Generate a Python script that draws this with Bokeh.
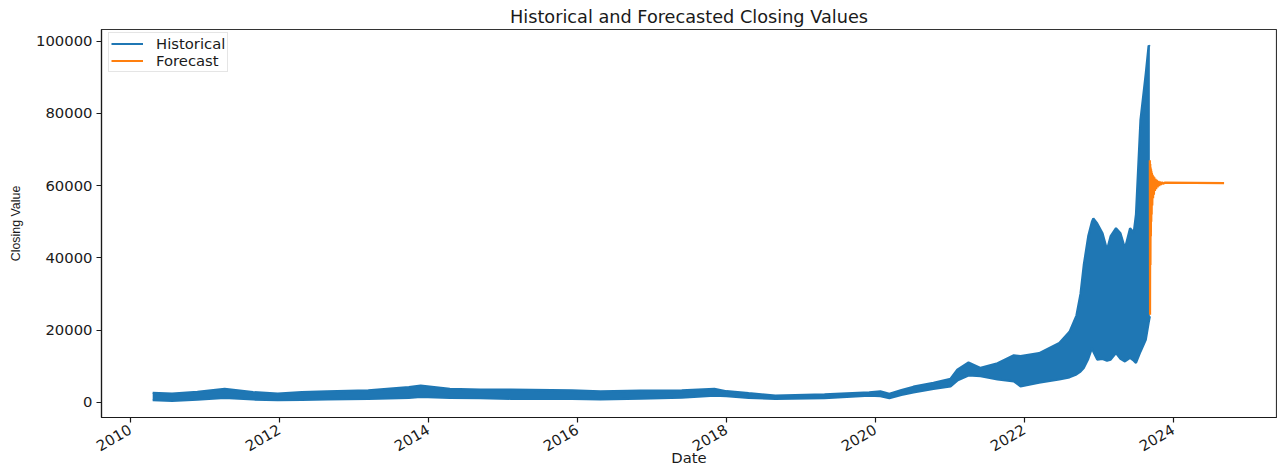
import math
import pandas as pd
from bokeh.plotting import figure
from bokeh.models import (Range1d, FixedTicker, DatetimeTickFormatter, BasicTickFormatter,
                          Legend, LegendItem)
from bokeh.embed import file_html
from bokeh.resources import INLINE

# Historical closing values: lower / upper envelope of the daily series
hist_dates = [
    "2010-04-20", "2010-07-24", "2010-11-25", "2011-04-08", "2011-08-25", "2011-12-24",
    "2012-04-20", "2012-08-22", "2013-03-12", "2013-09-27", "2013-11-24", "2014-04-16",
    "2014-09-13", "2015-02-10", "2015-12-05", "2016-04-23", "2016-11-06", "2017-05-27",
    "2017-11-03", "2018-01-01", "2018-04-20", "2018-08-29", "2019-04-27", "2019-12-02",
    "2020-01-26", "2020-03-10", "2020-05-08", "2020-07-06", "2020-10-12", "2021-01-04",
    "2021-02-06", "2021-04-02", "2021-05-31", "2021-08-22", "2021-11-10", "2021-12-13",
    "2022-03-14", "2022-06-21", "2022-08-10", "2022-09-13", "2022-10-03", "2022-10-19",
    "2022-11-10", "2022-11-28", "2022-12-05", "2022-12-24", "2023-01-19", "2023-02-10",
    "2023-02-28", "2023-03-26", "2023-04-17", "2023-05-09", "2023-06-03", "2023-06-21",
    "2023-07-02", "2023-07-24", "2023-08-19", "2023-09-02", "2023-09-08",
]
hist_low = [
    550, 400, 700, 1200, 750, 550,
    650, 750, 900, 1200, 1450, 1200,
    1100, 950, 900, 750, 1000, 1300,
    1800, 1650, 1200, 900, 1150, 1800,
    1700, 1100, 2000, 2700, 3700, 4400,
    6000, 7400, 7200, 6300, 5800, 4400,
    5400, 6300, 6900, 7700, 8500, 9500,
    12000, 15000, 14000, 11800, 12000, 11500,
    11800, 13600, 12000, 11300, 12300, 11500,
    10900, 14000, 17300, 22000, 23800,
]
hist_high = [
    2600, 2400, 2900, 3700, 2800, 2400,
    2800, 3000, 3300, 4200, 4600, 3700,
    3500, 3500, 3300, 3000, 3200, 3300,
    3700, 3050, 2500, 1850, 2150, 2750,
    3000, 2350, 3400, 4300, 5400, 6500,
    9000, 11000, 9500, 10800, 13000, 12800,
    13600, 16400, 19500, 24000, 30000, 38000,
    46000, 50000, 50900, 49500, 46800, 42200,
    46000, 48200, 46800, 42600, 48200, 47000,
    52000, 78100, 91000, 98800, 98500,
]

# Forecast closing values
fc_dates = [
    "2023-09-08", "2023-09-09", "2023-09-10", "2023-09-11", "2023-09-12", "2023-09-13",
    "2023-09-14", "2023-09-15", "2023-09-16", "2023-09-17", "2023-09-18", "2023-09-20",
    "2023-09-22", "2023-09-24", "2023-09-26", "2023-09-28", "2023-09-30", "2023-10-03",
    "2023-10-06", "2023-10-09", "2023-10-12", "2023-10-16", "2023-10-20", "2023-10-24",
    "2023-10-28", "2023-11-02", "2023-11-07", "2023-11-13", "2023-11-20", "2024-09-06",
]
fc_values = [
    67000, 24200, 66000, 38000, 65000, 46000,
    64500, 50000, 64000, 52000, 63500, 54500,
    63000, 56500, 62600, 57500, 62300, 58500,
    61900, 59000, 61600, 59500, 61300, 59900,
    61100, 60200, 60950, 60500, 60800, 60700,
]

y_ticks = [0, 20000, 40000, 60000, 80000, 100000]
x_tick_years = [2010, 2012, 2014, 2016, 2018, 2020, 2022, 2024]

BLUE = "#1f77b4"
ORANGE = "#ff7f0e"
TEXT = "#1a1a1a"
FONT = "DejaVu Sans"

hd = pd.to_datetime(hist_dates)
fd = pd.to_datetime(fc_dates)

p = figure(
    width=1277, height=468,
    x_axis_type="datetime",
    output_backend="svg", toolbar_location=None,
    min_border_left=101, min_border_right=1, min_border_top=29, min_border_bottom=50,
    x_range=Range1d(pd.Timestamp("2009-08-12"), pd.Timestamp("2025-05-21")),
    y_range=Range1d(-4230, 103230),
)
p.background_fill_color = "white"
p.border_fill_color = "white"
p.outline_line_color = "#333333"
p.outline_line_width = 1.2
p.xgrid.visible = False
p.ygrid.visible = False

# Title
p.title.text = "Historical and Forecasted Closing Values"
p.title.align = "center"
p.title.text_font = FONT
p.title.text_font_size = "17.7px"
p.title.text_font_style = "normal"
p.title.text_color = TEXT
p.title.standoff = 6

# Historical band and its edges
p.varea(x=hd, y1=hist_low, y2=hist_high, fill_color=BLUE, fill_alpha=1.0)
r_hist = p.line(hd, hist_high, line_color=BLUE, line_width=2.2)
p.line(hd, hist_low, line_color=BLUE, line_width=2.2)

# Forecast
r_fc = p.line(fd, fc_values, line_color=ORANGE, line_width=2.2)

# Axes
xa = p.xaxis[0]
xa.ticker = FixedTicker(ticks=[pd.Timestamp(f"{y}-01-01").value / 1e6 for y in x_tick_years])
xa.formatter = DatetimeTickFormatter(years="%Y", months="%Y", days="%Y", hours="%Y",
                                     minutes="%Y", seconds="%Y", milliseconds="%Y")
xa.major_label_orientation = math.pi / 6
xa.axis_label = "Date"

ya = p.yaxis[0]
ya.ticker = FixedTicker(ticks=y_ticks)
ya.formatter = BasicTickFormatter(use_scientific=False)
ya.axis_label = "Closing Value"

for ax in (xa, ya):
    ax.minor_tick_line_color = None
    ax.major_tick_out = 5
    ax.major_tick_in = 0
    ax.major_tick_line_width = 1.2
    ax.major_tick_line_color = "#1a1a1a"
    ax.axis_line_color = "#1a1a1a"
    ax.axis_line_width = 1.2
    ax.major_label_text_font = FONT
    ax.major_label_text_font_size = "14.8px"
    ax.major_label_text_color = TEXT
    ax.axis_label_text_font_style = "normal"
    ax.axis_label_text_color = TEXT
xa.major_label_standoff = 6
ya.major_label_standoff = 4
xa.axis_label_text_font = FONT
xa.axis_label_text_font_size = "14.8px"
xa.axis_label_standoff = -10
ya.axis_label_text_font = "Liberation Sans"
ya.axis_label_text_font_size = "12.4px"
ya.axis_label_standoff = 10

legend = Legend(
    items=[LegendItem(label="Historical", renderers=[r_hist]),
           LegendItem(label="Forecast", renderers=[r_fc])],
    location=(7, 345),
    padding=2,
    spacing=0,
    glyph_width=32,
    glyph_height=17,
    label_height=17,
    label_standoff=13,
    label_text_font=FONT,
    label_text_font_size="14.8px",
    label_text_color=TEXT,
    border_line_color="#cccccc",
    border_line_width=1,
    background_fill_color="white",
    background_fill_alpha=0.8,
)
p.add_layout(legend)

open("out.html", "w").write(file_html(p, INLINE))
